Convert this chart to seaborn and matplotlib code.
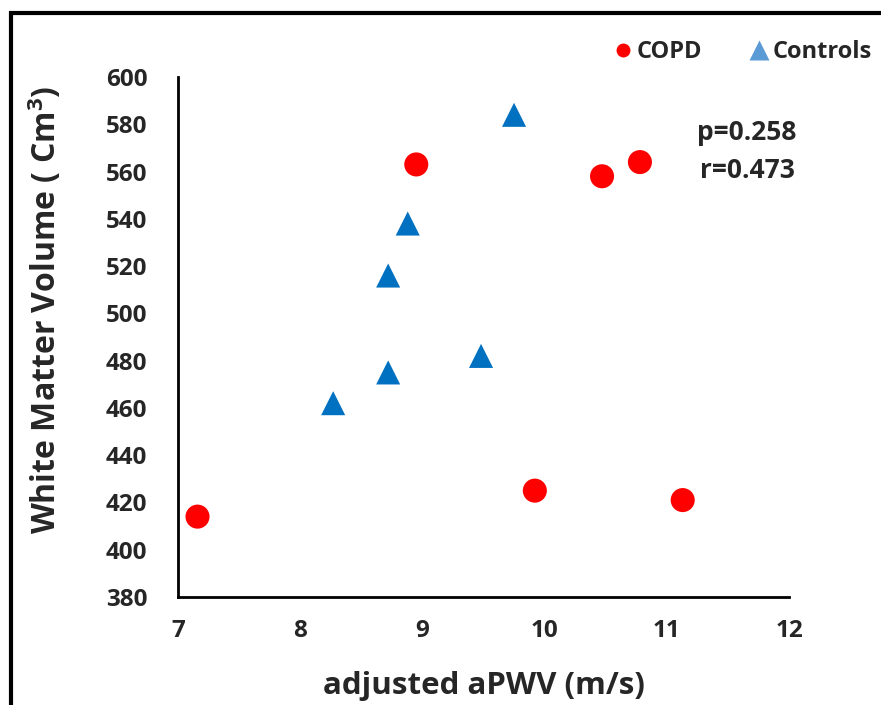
import matplotlib
matplotlib.use("Agg")
import matplotlib.pyplot as plt
import matplotlib.patches as mpatches
from matplotlib.lines import Line2D
import seaborn as sns
import pandas as pd

# data
copd_x = [7.16, 8.95, 9.92, 10.47, 10.78, 11.13]
copd_y = [414, 563, 425, 558, 564, 421]
ctrl_x = [8.27, 8.72, 8.72, 8.88, 9.48, 9.75]
ctrl_y = [462, 475, 516, 538, 482, 584]
groups = ["COPD", "Controls"]
x_ticks = [7, 8, 9, 10, 11, 12]
y_ticks = list(range(380, 601, 20))

df = pd.DataFrame({
    "aPWV": copd_x + ctrl_x,
    "WMV": copd_y + ctrl_y,
    "group": ["COPD"] * len(copd_x) + ["Controls"] * len(ctrl_x),
})

sns.set_style("white")
plt.rcParams["font.family"] = ["Open Sans", "DejaVu Sans"]
plt.rcParams["font.weight"] = "bold"
plt.rcParams["mathtext.fontset"] = "custom"
plt.rcParams["mathtext.bf"] = "Open Sans:bold"

fig = plt.figure(figsize=(8.81, 7.05), dpi=100)
ax = fig.add_axes([0.202, 0.1532, 0.6936, 0.7376])

sns.scatterplot(
    data=df, x="aPWV", y="WMV", hue="group", style="group",
    palette={"COPD": "#FF0000", "Controls": "#0070C0"},
    markers={"COPD": "o", "Controls": "^"},
    s=300, edgecolor="none", legend=False, ax=ax,
)
# triangles a bit smaller than the circles
for coll, sz in zip(ax.collections, [300, 260]):
    coll.set_sizes([sz])

ax.set_xlim(7, 12)
ax.set_ylim(380, 600)
ax.set_xticks(x_ticks)
ax.set_yticks(y_ticks)
ax.set_xlabel("")
ax.set_ylabel("")
for s in ["top", "right"]:
    ax.spines[s].set_visible(False)
for s in ["left", "bottom"]:
    ax.spines[s].set_linewidth(2)
    ax.spines[s].set_color("black")
ax.tick_params(axis="both", direction="out", length=6, width=2, color="black",
               labelsize=17.5)
for lab in ax.get_xticklabels() + ax.get_yticklabels():
    lab.set_fontweight("bold")
ax.tick_params(axis="x", pad=10)
ax.tick_params(axis="y", pad=16)

fig.text(0.5488, 1 - 686 / 705, "adjusted aPWV (m/s)", ha="center", va="center",
         fontsize=22.5, fontweight="bold")
fig.text(45 / 881, 1 - 310 / 705, "White Matter Volume ( Cm$^\\mathbf{3}$)", ha="center",
         va="center", rotation=90, fontsize=23, fontweight="bold")

ax.text(747 / 881, 1 - 133 / 705, "p=0.258", transform=fig.transFigure,
        ha="center", va="center", fontsize=19, fontweight="bold")
ax.text(747 / 881, 1 - 171 / 705, "r=0.473", transform=fig.transFigure,
        ha="center", va="center", fontsize=19, fontweight="bold")

handles = [
    Line2D([], [], marker="o", color="none", markerfacecolor="#FF0000",
           markeredgecolor="none", markersize=10, label=groups[0]),
    Line2D([], [], marker="^", color="none", markerfacecolor="#5B9BD5",
           markeredgecolor="none", markersize=14, label=groups[1]),
]
fig.legend(handles=handles, loc="center left", bbox_to_anchor=(596 / 881, 1 - 52 / 705),
           ncol=2, frameon=False, handletextpad=0.1, columnspacing=2.0,
           handlelength=0.9, borderpad=0.2, prop={"size": 17, "weight": "bold"})

frame = mpatches.Rectangle((11 / 881, -0.1), 1.2, 1 - 13 / 705 + 0.1,
                           transform=fig.transFigure, fill=False,
                           edgecolor="black", linewidth=3, clip_on=False)
fig.add_artist(frame)

fig.savefig("out.png", dpi=100)
